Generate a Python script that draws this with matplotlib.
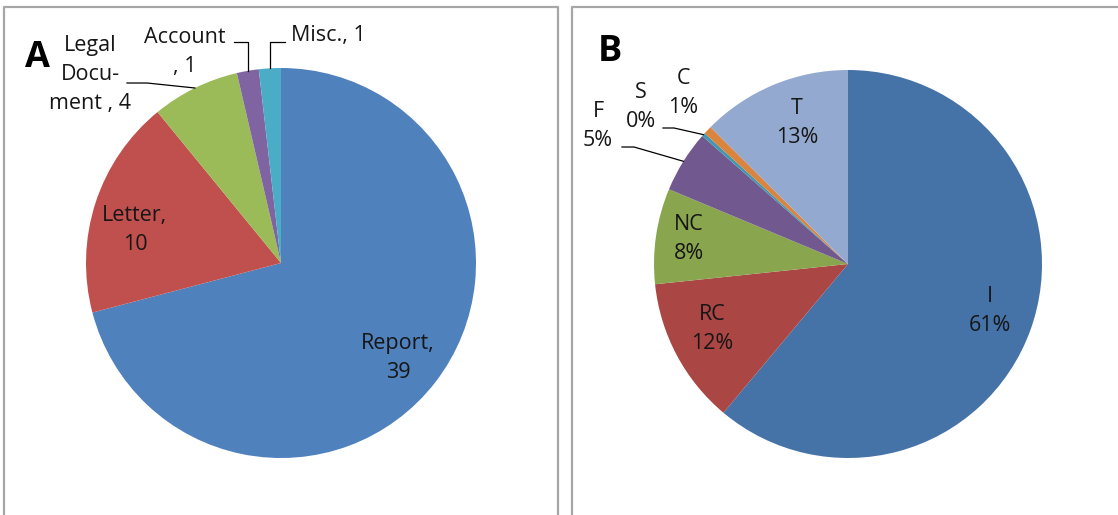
import numpy as np
import matplotlib.pyplot as plt

# panel A: document types (counts)
doc_names = ['Report', 'Letter', 'Legal\nDocu-\nment ', 'Account', 'Misc.']
doc_counts = [39, 10, 4, 1, 1]
doc_colors = ['#4f81bd', '#c0504d', '#9bbb59', '#8064a2', '#4bacc6']
doc_fmt = ['{},\n{}', '{},\n{}', '{}, {}', '{}\n, {}', '{}, {}']

# panel B: codes (share in %)
codes = ['I', 'RC', 'NC', 'F', 'S', 'C', 'T']
code_share = [61.4, 12.3, 8.0, 5.2, 0.3, 0.7, 12.6]
code_colors = ['#4572a7', '#aa4643', '#89a54e', '#71588f', '#4198af', '#db843d', '#93a9cf']

W, H = 1118, 515
plt.rcParams['font.family'] = ['Open Sans', 'DejaVu Sans']
fig = plt.figure(figsize=(W / 100, H / 100), dpi=100)
ax = fig.add_axes([0, 0, 1, 1])

TXT = '#161616'
FS = 15.5
LS = 1.5


def py(y):
    # pixel row (top origin) -> data y
    return H - y


def draw_pie(values, colors, cx, cy, r):
    ax.pie(values, colors=colors, startangle=90, counterclock=False,
           center=(cx, py(cy)), radius=r, wedgeprops=dict(linewidth=0))
    total = float(sum(values))
    cum = np.cumsum([0] + list(values))
    edges = []
    for i, v in enumerate(values):
        a = np.radians(90 - 360 * (cum[i] + v / 2) / total)
        edges.append((cx + r * np.cos(a), cy - r * np.sin(a)))
    return edges


def leader(start, dx, end, corner=False):
    if corner:
        xs = [start[0], end[0], end[0]]
        ys = [start[1], start[1], end[1]]
    else:
        xs = [start[0], start[0] + dx, end[0]]
        ys = [start[1], start[1], end[1]]
    ax.plot(xs, [py(y) for y in ys], color='black', lw=0.9,
            solid_joinstyle='round')


# ---- panel A
edges_a = draw_pie(doc_counts, doc_colors, 281, 263, 195)
pos_a = [(398, 358), (135, 230), (90, 74), (185, 52), (328, 35)]
for name, n, f, (x, y) in zip(doc_names, doc_counts, doc_fmt, pos_a):
    ax.text(x, py(y), f.format(name, n), ha='center', va='center',
            fontsize=FS, color=TXT, linespacing=LS)
leader((127, 83), 20, edges_a[2])
leader((234, 42), 0, edges_a[3], corner=True)
leader((285, 42), 0, edges_a[4], corner=True)
ax.text(37, py(58), 'A', ha='center', va='center', fontsize=26,
        fontweight='bold', color='black')

# ---- panel B
edges_b = draw_pie(code_share, code_colors, 848, 264, 194)
pct = [100 * v / sum(code_share) for v in code_share]
pos_b = [(990, 311), (712, 329), (689, 239), (598, 126), (641, 107),
         (683, 93), (797, 123)]
for c, p, (x, y) in zip(codes, pct, pos_b):
    ax.text(x, py(y), '{}\n{:.0f}%'.format(c, p), ha='center', va='center',
            fontsize=FS, color=TXT, linespacing=LS)
leader((663, 128), 11, edges_b[4])
leader((622, 147), 12, edges_b[3])
ax.text(610, py(52), 'B', ha='center', va='center', fontsize=26,
        fontweight='bold', color='black')

# panel borders
bc = '#a6a6a6'
ax.plot([4, 4, 558, 558], [py(H), py(7), py(7), py(H)], color=bc, lw=1.6)
ax.plot([572, 572, W + 5], [py(H), py(7), py(7)], color=bc, lw=1.6)

ax.set_xlim(0, W)
ax.set_ylim(0, H)
ax.set_aspect('auto')
ax.axis('off')

fig.savefig('out.png', dpi=100)
